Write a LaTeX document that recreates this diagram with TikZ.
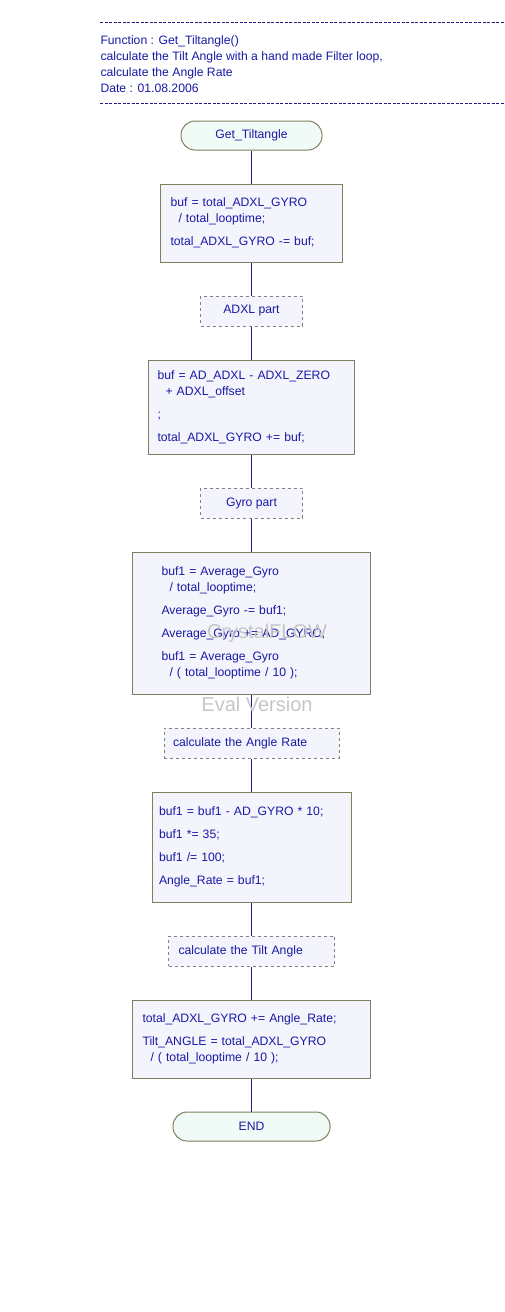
\documentclass[tikz,border=0pt]{standalone}
\usepackage{fontspec}
\setmainfont{Liberation Sans}
\definecolor{flowtext}{RGB}{25,25,165}
\definecolor{flowline}{RGB}{30,30,130}
\definecolor{boxedge}{RGB}{128,128,96}
\definecolor{boxfill}{RGB}{244,244,253}
\definecolor{termfill}{RGB}{240,250,247}
\definecolor{noteedge}{RGB}{128,128,128}
\begin{document}
\begin{tikzpicture}[x=1pt,y=-1pt]
	\useasboundingbox (0,0) rectangle (504,1312);
	\begin{scope}[every node/.style={font=\fontsize{12.2}{16}\selectfont,text=flowtext},line width=1pt]
		\tikzstyle{term}=[draw=boxedge,fill=termfill,rounded corners=14pt,minimum height=29pt,inner sep=0pt];
		\tikzstyle{stmt}=[draw=boxedge,fill=boxfill,align=left,inner ysep=0pt];
		\tikzstyle{note}=[draw=noteedge,dashed,fill=boxfill,minimum height=30pt,inner ysep=0pt];
		\tikzstyle{wmark}=[text=gray!45,font=\fontsize{20}{24}\selectfont];
		% header
		\draw[flowline,line width=0.6pt,dash pattern=on 3pt off 1.5pt] (100,22) -- (504,22);
		\path (100,35) node [anchor=north west,align=left,inner sep=0pt] (head) {Function : Get\_Tiltangle()\\calculate the Tilt Angle with a hand made Filter loop,\\calculate the Angle Rate\\Date : 01.08.2006};
		\draw[flowline,line width=0.6pt,dash pattern=on 3pt off 1.5pt] (100,103) -- (504,103);
		% flow
		\path (251.5,135.5) node [term,minimum width=141pt] (start) {Get\_Tiltangle};
		\path (251.5,223) node [stmt,minimum height=78pt,text width=162pt,inner xsep=10pt] (box1) {buf = total\_ADXL\_GYRO\\\hspace*{8pt}/ total\_looptime;\\[7pt]total\_ADXL\_GYRO -= buf;};
		\path (251.5,311) node [note,minimum width=102pt] (adxl) {ADXL part};
		\path (251.5,407) node [stmt,minimum height=94pt,text width=188pt,inner xsep=9pt] (box2) {buf = AD\_ADXL - ADXL\_ZERO\\\hspace*{8pt}+ ADXL\_offset\\[7pt];\\[7pt]total\_ADXL\_GYRO += buf;};
		\path (251.5,503) node [note,minimum width=102pt] (gyro) {Gyro part};
		\path (251.5,623) node [stmt,minimum height=142pt,text width=180pt,inner xsep=29pt] (box3) {buf1 = Average\_Gyro\\\hspace*{8pt}/ total\_looptime;\\[7pt]Average\_Gyro -= buf1;\\[7pt]Average\_Gyro += AD\_GYRO;\\[7pt]buf1 = Average\_Gyro\\\hspace*{8pt}/ ( total\_looptime / 10 );};
		\path (251.5,743) node [note,text width=157pt,inner xsep=9pt,align=left] (rate) {calculate the Angle Rate};
		\path (251.5,847) node [stmt,minimum height=110pt,text width=185pt,inner xsep=7pt] (box4) {buf1 = buf1 - AD\_GYRO * 10;\\[7pt]buf1 *= 35;\\[7pt]buf1 /= 100;\\[7pt]Angle\_Rate = buf1;};
		\path (251.5,951) node [note,text width=146pt,inner xsep=10pt,align=left] (tilt) {calculate the Tilt Angle};
		\path (251.5,1039) node [stmt,minimum height=78pt,text width=218pt,inner xsep=10pt] (box5) {total\_ADXL\_GYRO += Angle\_Rate;\\[7pt]Tilt\_ANGLE = total\_ADXL\_GYRO\\\hspace*{8pt}/ ( total\_looptime / 10 );};
		\path (251.5,1126.5) node [term,minimum width=157pt] (stop) {END};
		\draw[flowline] (start) -- (box1);
		\draw[flowline] (box1) -- (adxl);
		\draw[flowline] (adxl) -- (box2);
		\draw[flowline] (box2) -- (gyro);
		\draw[flowline] (gyro) -- (box3);
		\draw[flowline] (box3) -- (rate);
		\draw[flowline] (rate) -- (box4);
		\draw[flowline] (box4) -- (tilt);
		\draw[flowline] (tilt) -- (box5);
		\draw[flowline] (box5) -- (stop);
		% watermark
		\path (267,633) node [wmark] (crystal) {CrystalFLOW};
		\path (257,704) node [wmark] (eval) {Eval Version};
	\end{scope}
\end{tikzpicture}
\end{document}
